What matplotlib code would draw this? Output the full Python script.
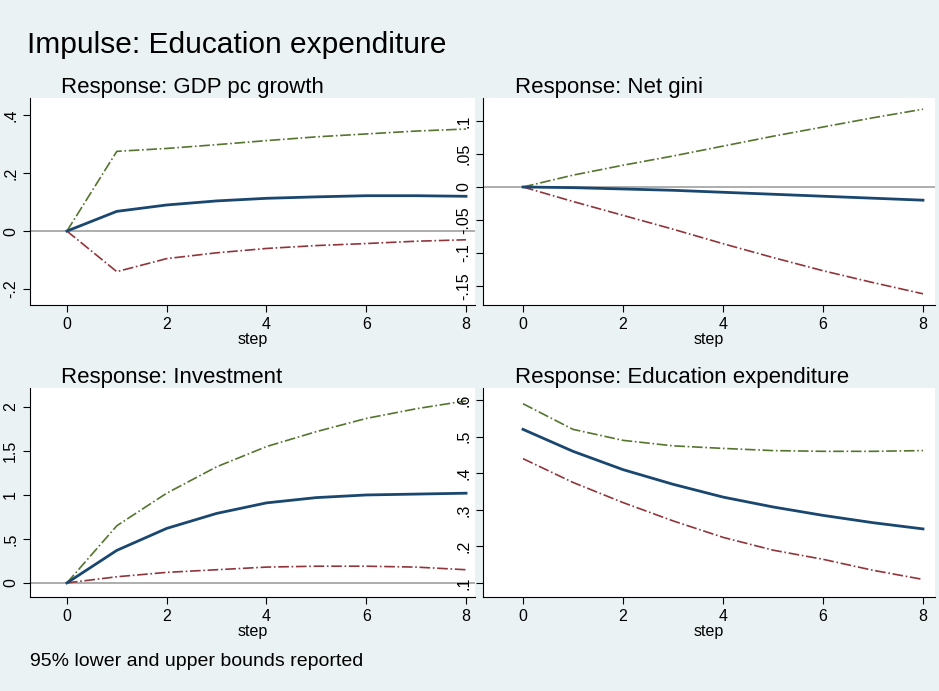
import matplotlib.pyplot as plt

steps = list(range(9))

gdp_irf = [0, .068, .09, .104, .113, .118, .122, .122, .12]
gdp_up = [0, .275, .285, .298, .312, .325, .335, .345, .352]
gdp_lo = [0, -.14, -.095, -.075, -.06, -.05, -.043, -.035, -.03]

gini_irf = [0, -.001, -.003, -.005, -.008, -.011, -.014, -.017, -.02]
gini_up = [0, .018, .033, .047, .062, .077, .091, .105, .118]
gini_lo = [0, -.022, -.043, -.064, -.086, -.107, -.127, -.145, -.162]

inv_irf = [0, .37, .62, .79, .91, .97, 1.0, 1.01, 1.02]
inv_up = [0, .65, 1.02, 1.32, 1.55, 1.72, 1.87, 1.98, 2.07]
inv_lo = [0, .07, .12, .15, .18, .19, .19, .18, .15]

edu_irf = [.52, .46, .41, .37, .335, .308, .285, .265, .248]
edu_up = [.59, .52, .49, .475, .468, .462, .46, .46, .462]
edu_lo = [.44, .375, .32, .27, .225, .19, .165, .135, .11]

W, H = 939, 691
fig = plt.figure(figsize=(W / 100, H / 100), dpi=100)
fig.patch.set_facecolor('#EAF2F3')
plt.rcParams['font.family'] = ['Liberation Sans', 'DejaVu Sans']


def px(x0, x1, y0, y1):
    return [x0 / W, 1 - y1 / H, (x1 - x0) / W, (y1 - y0) / H]


panels = [
    (px(30, 475, 98, 305), "Response: GDP pc growth", gdp_irf, gdp_up, gdp_lo,
     (-.255, .459), [-.2, 0, .2, .4], ['-.2', '0', '.2', '.4'], (-.74, 8.18)),
    (px(483, 935, 98, 305), "Response: Net gini", gini_irf, gini_up, gini_lo,
     (-.179, .135), [-.15, -.1, -.05, 0, .05, .1], ['-.15', '-.1', '-.05', '0', '.05', '.1'], (-.8, 8.24)),
    (px(30, 475, 388, 597), "Response: Investment", inv_irf, inv_up, inv_lo,
     (-.16, 2.216), [0, .5, 1, 1.5, 2], ['0', '.5', '1', '1.5', '2'], (-.74, 8.18)),
    (px(483, 935, 388, 597), "Response: Education expenditure", edu_irf, edu_up, edu_lo,
     (.062, .633), [.1, .2, .3, .4, .5, .6], ['.1', '.2', '.3', '.4', '.5', '.6'], (-.8, 8.24)),
]

for rect, title, irf, up, lo, ylim, yt, ytl, xlim in panels:
    ax = fig.add_axes(rect)
    ax.set_facecolor('white')
    ax.axhline(0, color='#A0A0A0', lw=1.2)
    ax.plot(steps, up, color='#55752F', ls='-.', lw=1.2)
    ax.plot(steps, lo, color='#90353B', ls='-.', lw=1.2)
    ax.plot(steps, irf, color='#1A476F', lw=2)
    ax.set_xlim(*xlim)
    ax.set_ylim(*ylim)
    ax.set_xticks([0, 2, 4, 6, 8])
    ax.set_yticks(yt)
    ax.set_yticklabels(ytl, rotation=90, va='center')
    ax.tick_params(labelsize=11.5, length=5)
    ax.set_xlabel('step', fontsize=11.5, labelpad=0)
    for s in ['top', 'right']:
        ax.spines[s].set_visible(False)
    ax.set_title(title, loc='left', fontsize=16, pad=3, x=0.07)

fig.text(27 / W, 1 - 45 / H, "Impulse: Education expenditure", fontsize=21.5, va='center')
fig.text(30 / W, 1 - 662 / H, "95% lower and upper bounds reported", fontsize=14, va='center')

fig.savefig('out.png', dpi=100, facecolor=fig.get_facecolor())
